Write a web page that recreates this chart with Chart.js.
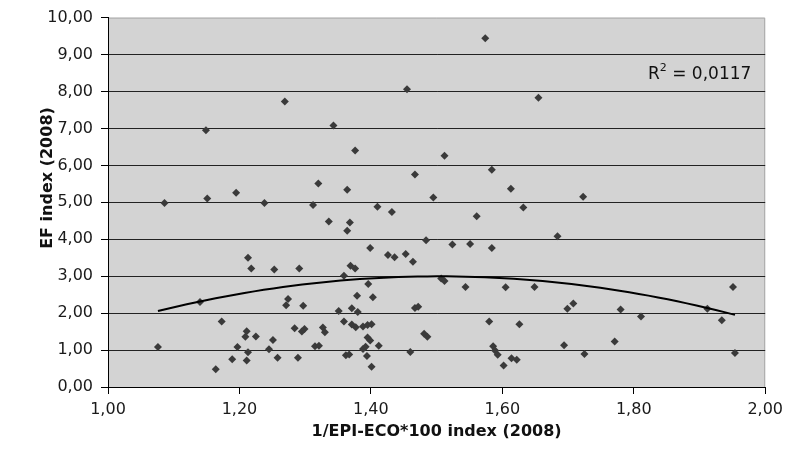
<!DOCTYPE html>
<html>
<head>
<meta charset="utf-8">
<script src="https://cdn.jsdelivr.net/npm/chart.js@4.4.1/dist/chart.umd.min.js"></script>
<style>
  body { margin: 0; background: #fff; }
  #wrap { width: 789px; height: 465px; position: relative; }
</style>
</head>
<body>
<div id="wrap"><canvas id="efChart"></canvas></div>
<script>
// 1/EPI-ECO*100 index (2008) per country
const xValues = [
  1.269, 1.149, 1.574, 1.455, 1.655, 1.343, 1.376, 1.512, 1.320, 1.364,
  1.467, 1.584, 1.613, 1.495, 1.723, 1.086, 1.151, 1.195, 1.238, 1.213,
  1.218, 1.253, 1.291, 1.140, 1.274, 1.271, 1.297, 1.173, 1.211, 1.209,
  1.225, 1.251, 1.284, 1.299, 1.295, 1.076, 1.197, 1.213, 1.245, 1.189,
  1.211, 1.258, 1.289, 1.164, 1.312, 1.410, 1.432, 1.561, 1.632, 1.336,
  1.368, 1.364, 1.484, 1.524, 1.551, 1.584, 1.399, 1.426, 1.436, 1.453,
  1.464, 1.369, 1.376, 1.359, 1.396, 1.507, 1.512, 1.544, 1.605, 1.649,
  1.379, 1.403, 1.351, 1.371, 1.380, 1.467, 1.472, 1.359, 1.371, 1.377,
  1.388, 1.395, 1.401, 1.580, 1.626, 1.327, 1.330, 1.481, 1.486, 1.395,
  1.399, 1.315, 1.321, 1.392, 1.388, 1.412, 1.460, 1.586, 1.589, 1.593,
  1.362, 1.367, 1.394, 1.602, 1.614, 1.622, 1.401, 1.684, 1.951, 1.708,
  1.699, 1.780, 1.811, 1.912, 1.934, 1.694, 1.771, 1.725, 1.954
];
// EF index (2008), same order
const yValues = [
  7.73, 6.95, 9.44, 8.06, 7.83, 7.08, 6.40, 6.26, 5.51, 5.34,
  5.75, 5.88, 5.37, 5.13, 5.15, 4.98, 5.10, 5.26, 4.98, 3.50,
  3.21, 3.18, 3.21, 2.30, 2.38, 2.21, 2.20, 1.77, 1.51, 1.36,
  1.37, 1.27, 1.59, 1.57, 1.50, 1.08, 1.08, 0.94, 1.02, 0.75,
  0.72, 0.79, 0.79, 0.48, 4.93, 4.88, 4.74, 4.62, 4.86, 4.48,
  4.45, 4.23, 3.97, 3.86, 3.87, 3.76, 3.76, 3.57, 3.51, 3.60,
  3.39, 3.28, 3.21, 3.01, 2.79, 2.94, 2.87, 2.71, 2.70, 2.71,
  2.47, 2.43, 2.06, 2.13, 2.03, 2.14, 2.17, 1.77, 1.69, 1.62,
  1.64, 1.68, 1.70, 1.77, 1.70, 1.61, 1.48, 1.44, 1.36, 1.34,
  1.26, 1.10, 1.12, 1.09, 1.03, 1.12, 0.95, 1.10, 0.99, 0.87,
  0.86, 0.88, 0.84, 0.58, 0.78, 0.74, 0.55, 4.08, 2.71, 2.26,
  2.12, 2.10, 1.91, 2.12, 1.81, 1.13, 1.23, 0.89, 0.92
];
const xTicks = [1.0, 1.2, 1.4, 1.6, 1.8, 2.0];
const yTicks = [0, 1, 2, 3, 4, 5, 6, 7, 8, 9, 10];
const xTitle = '1/EPI-ECO*100 index (2008)';
const yTitle = 'EF index (2008)';
const rSquaredText = '0,0117';

const points = xValues.map((x, i) => ({ x: x, y: yValues[i] }));

// 2nd order polynomial trend (least squares), like the spreadsheet trendline
function polyFit2(xs, ys) {
  let s = [0, 0, 0, 0, 0], t = [0, 0, 0];
  for (let i = 0; i < xs.length; i++) {
    const x = xs[i], y = ys[i];
    let p = 1;
    for (let k = 0; k < 5; k++) { s[k] += p; if (k < 3) t[k] += p * y; p *= x; }
  }
  const m = [[s[0], s[1], s[2], t[0]], [s[1], s[2], s[3], t[1]], [s[2], s[3], s[4], t[2]]];
  for (let c = 0; c < 3; c++) {
    for (let r = c + 1; r < 3; r++) {
      const f = m[r][c] / m[c][c];
      for (let k = c; k < 4; k++) m[r][k] -= f * m[c][k];
    }
  }
  const b = [0, 0, 0];
  for (let r = 2; r >= 0; r--) {
    let v = m[r][3];
    for (let k = r + 1; k < 3; k++) v -= m[r][k] * b[k];
    b[r] = v / m[r][r];
  }
  return b;
}
const coef = polyFit2(xValues, yValues);
const xMin = Math.min(...xValues), xMax = Math.max(...xValues);
const trend = [];
for (let i = 0; i <= 60; i++) {
  const x = xMin + (xMax - xMin) * i / 60;
  trend.push({ x: x, y: coef[0] + coef[1] * x + coef[2] * x * x });
}

function fmt(v) {
  return Number(v).toFixed(2).replace('.', ',');
}

const plotBg = {
  id: 'plotBg',
  beforeDraw(chart) {
    const { ctx, chartArea: a } = chart;
    ctx.save();
    ctx.fillStyle = '#d3d3d3';
    ctx.fillRect(a.left, a.top, a.right - a.left, a.bottom - a.top);
    ctx.strokeStyle = '#a8a8a8';
    ctx.lineWidth = 1;
    ctx.beginPath();
    ctx.moveTo(a.left, a.top + 0.5);
    ctx.lineTo(a.right - 0.5, a.top + 0.5);
    ctx.lineTo(a.right - 0.5, a.bottom);
    ctx.stroke();
    ctx.restore();
  }
};

const labels = {
  id: 'labels',
  afterDraw(chart) {
    const { ctx, chartArea: a } = chart;
    ctx.save();
    ctx.fillStyle = '#111';
    ctx.font = 'bold 16px "DejaVu Sans"';
    ctx.textAlign = 'center';
    ctx.textBaseline = 'middle';
    ctx.fillText(xTitle, (a.left + a.right) / 2, 432);
    ctx.translate(48, 178);
    ctx.rotate(-Math.PI / 2);
    ctx.fillText(yTitle, 0, 0);
    ctx.restore();

    // R² label
    ctx.save();
    ctx.fillStyle = '#111';
    ctx.textAlign = 'left';
    ctx.textBaseline = 'alphabetic';
    let x = 648;
    const base = 79;
    ctx.font = '17px "DejaVu Sans"';
    ctx.fillText('R', x, base);
    x += ctx.measureText('R').width;
    ctx.font = '11px "DejaVu Sans"';
    ctx.fillText('2', x, base - 8);
    x += ctx.measureText('2').width;
    ctx.font = '17px "DejaVu Sans"';
    ctx.fillText(' = ' + rSquaredText, x, base);
    ctx.restore();
  }
};

const ctx = document.getElementById('efChart').getContext('2d');
new Chart(ctx, {
  type: 'scatter',
  data: {
    datasets: [
      {
        type: 'line',
        data: trend,
        borderColor: '#000',
        borderWidth: 2,
        pointRadius: 0,
        fill: false,
        tension: 0
      },
      {
        data: points,
        pointStyle: 'rectRot',
        pointRadius: 4,
        pointBorderWidth: 0,
        backgroundColor: '#3a3a3a',
        borderColor: '#3a3a3a'
      }
    ]
  },
  options: {
    responsive: true,
    maintainAspectRatio: false,
    animation: false,
    layout: { padding: { left: 0, right: 20, top: 14, bottom: 0 } },
    plugins: {
      legend: { display: false },
      tooltip: { enabled: false }
    },
    scales: {
      x: {
        type: 'linear',
        min: 1,
        max: 2,
        afterBuildTicks: s => { s.ticks = xTicks.map(v => ({ value: v })); },
        afterFit: s => { s.height = 78; },
        ticks: {
          callback: v => fmt(v),
          color: '#1a1a1a',
          font: { family: 'DejaVu Sans', size: 16 },
          padding: 6,
          maxRotation: 0
        },
        grid: {
          drawOnChartArea: false,
          drawTicks: true,
          tickLength: 7,
          tickColor: '#000'
        },
        border: { display: true, color: '#000', width: 1 }
      },
      y: {
        type: 'linear',
        min: 0,
        max: 10,
        afterBuildTicks: s => { s.ticks = yTicks.map(v => ({ value: v })); },
        afterFit: s => { s.width = 108; },
        ticks: {
          callback: v => fmt(v),
          color: '#1a1a1a',
          font: { family: 'DejaVu Sans', size: 16 },
          padding: 8
        },
        grid: {
          color: c => (c.tick && (c.tick.value === 10 || c.tick.value === 0)) ? 'rgba(0,0,0,0)' : '#222',
          lineWidth: 1,
          drawTicks: true,
          tickLength: 7,
          tickColor: '#000'
        },
        border: { display: true, color: '#000', width: 1 }
      }
    }
  },
  plugins: [plotBg, labels]
});
</script>
</body>
</html>
